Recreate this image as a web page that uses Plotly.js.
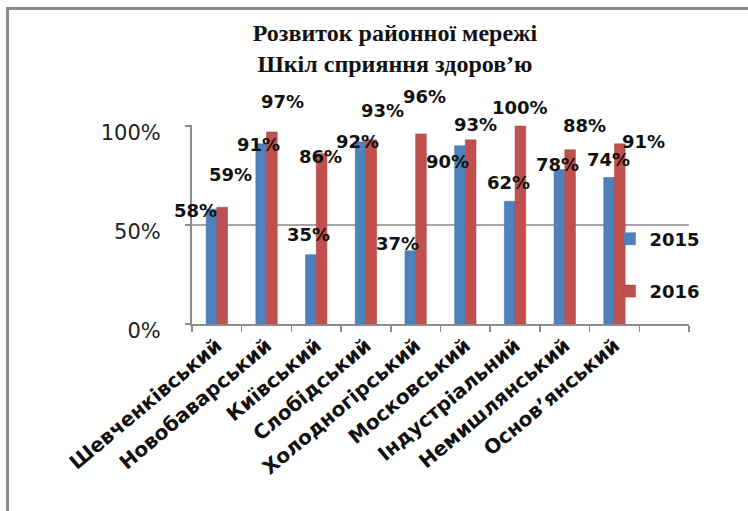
<!DOCTYPE html>
<html>
<head>
<meta charset="utf-8">
<script src="https://cdn.plot.ly/plotly-3.0.1.min.js"></script>
<style>
html,body{margin:0;padding:0;background:#fff;}
#wrap{position:relative;width:748px;height:511px;overflow:hidden;}
#chart{width:748px;height:511px;}
.fr{position:absolute;background:#8a8a8a;pointer-events:none;}
</style>
</head>
<body>
<div id="wrap">
<div id="chart"></div>
<div class="fr" style="left:6px;top:7px;width:742px;height:3px;"></div>
<div class="fr" style="left:6px;top:7px;width:3px;height:504px;"></div>
</div>
<script>
// ---- data ----
const categories = ["Шевченківський","Новобаварський","Київський","Слобідський","Холодногірський","Московський","Індустріальний","Немишлянський","Основ’янський"];
const series2015 = [58, 91, 35, 92, 37, 90, 62, 78, 74];
const series2016 = [59, 97, 86, 93, 96, 93, 100, 88, 91];
const seriesNames = ["2015", "2016"];
const yTickLabels = ["0%", "50%", "100%"];

// ---- label offsets (pixels, style only) ----
const off2015 = [[-21,-1],[-8,-1],[-8,20],[-8,0],[-18,7],[-18,-16],[-7,19],[-7,5],[-6,18]];
const off2016 = [[14,33],[16,30],[4,-3],[17,29],[9,37],[10,15],[5,18],[20,24],[29,2]];

const nSlots = categories.length + 1;
const idx = categories.map((_, i) => i);
const blue = "#4F81BD", red = "#C0504D";

const traces = [
  {type:"bar", name:seriesNames[0], x:idx, y:series2015.map(v=>v/100), marker:{color:blue, line:{color:"#3f6da3", width:0.5}}, legendgroup:"a", hoverinfo:"skip"},
  {type:"bar", name:seriesNames[1], x:idx, y:series2016.map(v=>v/100), marker:{color:red, line:{color:"#a84340", width:0.5}}, legendgroup:"b", hoverinfo:"skip"}
];

const lblFont = {family:"DejaVu Sans", size:18, color:"#111", weight:"bold"};
const annotations = [];
[[series2015, off2015],[series2016, off2016]].forEach(([vals, offs]) => {
  vals.forEach((v, i) => {
    annotations.push({x:i, y:v/100, xref:"x", yref:"y", text:"<b>"+v+"%</b>", showarrow:false,
      xanchor:"center", yanchor:"middle", xshift:offs[i][0], yshift:offs[i][1], font:lblFont});
  });
});

const boundaries = [];
for (let i = 0; i <= nSlots; i++) boundaries.push(i - 0.5);

const layout = {
  width:748, height:511,
  margin:{l:192, r:59, t:125, b:187},
  paper_bgcolor:"#fff", plot_bgcolor:"#fff",
  barmode:"group", bargap:0.57, bargroupgap:0,
  title:{text:"<b>Розвиток районної мережі<br>Шкіл сприяння здоров’ю</b>",
    font:{family:"Liberation Serif", size:24, color:"#111"},
    x:0.528, xref:"container", xanchor:"center", y:0.92, yref:"container", yanchor:"middle"},
  xaxis:{type:"linear", range:[-0.5, nSlots - 0.5], tickmode:"array", tickvals:idx, ticktext:categories,
    tickangle:-40, ticks:"", showgrid:false, zeroline:false, showline:true, linecolor:"#8c8c8c", linewidth:2,
    tickfont:{family:"DejaVu Sans", size:20, color:"#111", weight:"bold"},
    minor:{tickmode:"array", tickvals:boundaries, ticks:"outside", ticklen:6, tickwidth:1.5, tickcolor:"#8c8c8c", showgrid:false},
    fixedrange:true},
  yaxis:{range:[0,1.005], tickmode:"array", tickvals:[0,0.5,1], ticktext:yTickLabels,
    ticks:"outside", ticklen:5, tickcolor:"#8c8c8c", tickwidth:1.5,
    showgrid:true, gridcolor:"#a6a6a6", gridwidth:2, zeroline:false,
    showline:true, linecolor:"#8c8c8c", linewidth:2,
    ticklabelstandoff:20, ticklabelshift:7,
    tickfont:{family:"DejaVu Sans", size:21, color:"#222"}, fixedrange:true},
  legend:{x:0.84, xanchor:"left", y:0.52, yanchor:"top", bgcolor:"rgba(0,0,0,0)",
    font:{family:"DejaVu Sans", size:18, color:"#111", weight:"bold"}, tracegroupgap:26, itemwidth:30},
  showlegend:true,
  annotations:annotations
};

Plotly.newPlot("chart", traces, layout, {displayModeBar:false, staticPlot:true});
</script>
</body>
</html>
